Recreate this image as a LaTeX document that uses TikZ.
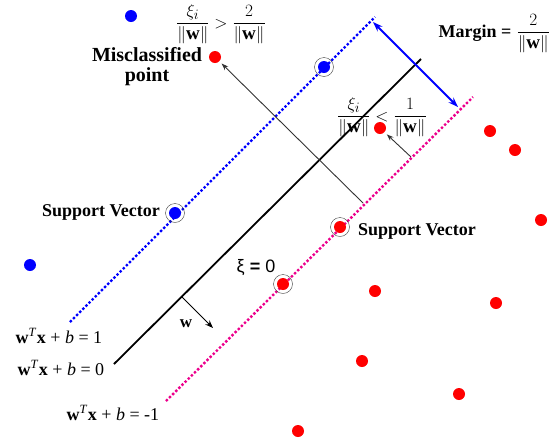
\documentclass[tikz,border=0pt]{standalone}
\usepackage{fontspec}
\setmainfont{Liberation Serif}
\newfontfamily\xifont{Liberation Sans}
\usetikzlibrary{arrows.meta, positioning, calc}

\begin{document}
\begin{tikzpicture}[x=1pt, y=-1pt, >={Stealth[length=7pt, width=5pt]}, semithick]
  % Styles
  \tikzstyle{bluepoint}=[circle, fill=blue, inner sep=0pt, minimum size=12pt]
  \tikzstyle{redpoint}=[circle, fill=red, inner sep=0pt, minimum size=12pt]
  \tikzstyle{svring}=[circle, draw=black!75, thin, inner sep=0pt, minimum size=19pt]
  \tikzset{boldlabel/.style={font=\fontsize{18}{17}\selectfont\bfseries, align=center}}
  \tikzset{eqlabel/.style={font=\fontsize{18}{20}\selectfont, anchor=base west}}
  \tikzset{fraclabel/.style={font=\fontsize{19}{22}\selectfont, anchor=base}}
  \tikzset{plusplane/.style={draw=blue, line width=2.4pt, dash pattern=on 2.4pt off 2pt}}
  \tikzset{minusplane/.style={draw=magenta, line width=2.4pt, dash pattern=on 2.4pt off 2pt}}
  \tikzset{slack/.style={draw=black!80, line width=0.9pt, -{Stealth[length=7pt, width=5pt]}, shorten >=3pt}}

  \useasboundingbox (0,0) rectangle (560,445);

  % --- Hyperplane ends ---
  \coordinate (P1) at (70,322);  \coordinate (P2) at (375,17);
  \coordinate (H1) at (114,364); \coordinate (H2) at (421,59);
  \coordinate (M1) at (166,401); \coordinate (M2) at (473,97);

  % --- Hyperplanes ---
  \draw[plusplane] (P1) -- (P2);
  \draw[black, line width=1.8pt] (H1) -- (H2);
  \draw[minusplane] (M1) -- (M2);

  % --- Support vector rings ---
  \node[svring] (SVb1) at (324,67) {};
  \node[svring] (SVb2) at (175,213) {};
  \node[svring] (SVr1) at (340,227) {};
  \node[svring] (SVr2) at (283,284) {};

  % --- Blue class ---
  \node[bluepoint] (B1) at (131,16) {};
  \node[bluepoint] (B2) at (324,67) {};
  \node[bluepoint] (B3) at (175,213) {};
  \node[bluepoint] (B4) at (30,265) {};

  % --- Red class ---
  \node[redpoint] (R1) at (215,57) {};
  \node[redpoint] (R2) at (380,128) {};
  \node[redpoint] (R3) at (490,131) {};
  \node[redpoint] (R4) at (515,150) {};
  \node[redpoint] (R5) at (541,220) {};
  \node[redpoint] (R6) at (340,227) {};
  \node[redpoint] (R7) at (283,284) {};
  \node[redpoint] (R8) at (375,291) {};
  \node[redpoint] (R9) at (496,303) {};
  \node[redpoint] (R10) at (362,361) {};
  \node[redpoint] (R11) at (459,394) {};
  \node[redpoint] (R12) at (298,431) {};

  % --- Arrows ---
  \coordinate (Mtop) at (373,22);  \coordinate (Mbot) at (458,107);
  \coordinate (S1) at (363,203);   \coordinate (S2) at (411,157);
  \coordinate (W0) at (182,297);   \coordinate (W1) at (213,328);

  \draw[blue, line width=1.8pt, {Stealth[length=10pt, width=7pt]}-{Stealth[length=10pt, width=7pt]}] (Mtop) -- (Mbot);
  \draw[slack] (S1) -- (R1);
  \draw[slack] (S2) -- (R2);
  \draw[->, black, line width=1pt, >={Stealth[length=8pt, width=6pt]}] (W0) -- (W1);

  % --- Labels ---
  \node[boldlabel, font=\fontsize{20}{20}\selectfont\bfseries] (misclass) at (147,67) {Misclassified\\point};
  \node[boldlabel, anchor=base] (svleft) at (101,216) {Support Vector};
  \node[boldlabel, anchor=base] (svright) at (417,235) {Support Vector};
  \node[font=\fontsize{18}{20}\selectfont\xifont, anchor=base] (xizero) at (256,272) {ξ \textbf{=} 0};
  \node[font=\fontsize{17}{18}\selectfont\bfseries] (wlabel) at (186,324) {w};

  \node[fraclabel] (outside) at (221,28)
    {$\displaystyle\frac{\xi_i}{\|\textbf{w}\|} > \frac{2}{\|\textbf{w}\|}$};
  \node[fraclabel] (inside) at (382,121)
    {$\displaystyle\frac{\xi_i}{\|\textbf{w}\|} < \frac{1}{\|\textbf{w}\|}$};
  \node[fraclabel, anchor=base west] (margin) at (435,37)
    {{\fontsize{18}{18}\selectfont\bfseries Margin =}\;$\displaystyle\frac{2}{\|\textbf{w}\|}$};

  \node[eqlabel] (plus) at (12,343) {\textbf{w}\textsuperscript{\textit{T}}\textbf{x} + \textit{b} = 1};
  \node[eqlabel] (zero) at (14,375) {\textbf{w}\textsuperscript{\textit{T}}\textbf{x} + \textit{b} = 0};
  \node[eqlabel] (minus) at (63,420) {\textbf{w}\textsuperscript{\textit{T}}\textbf{x} + \textit{b} = -1};
\end{tikzpicture}
\end{document}
